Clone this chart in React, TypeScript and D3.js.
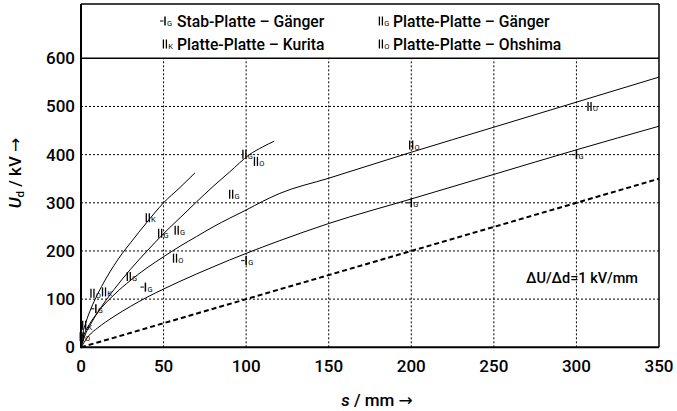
import React from 'react';
import * as d3 from 'd3';

const sTicks = [0, 50, 100, 150, 200, 250, 300, 350];
const uTicks = [0, 100, 200, 300, 400, 500, 600];

// fitted curves [s (mm), U (kV)]
const curveKurita: [number, number][] = [[0,0],[1,26],[3,52],[6,80],[10,110],[15,142],[20,170],[25,195],[30,217],[40,260],[50,300],[60,332],[69,362]];
const curvePPGaenger: [number, number][] = [[0,0],[3,30],[6,49],[10,72],[15,97],[20,120],[30,162],[40,200],[50,236],[60,269],[70,302],[80,334],[90,364],[102,400],[110,416],[117,428]];
const curveOhshima: [number, number][] = [[0,0],[2,27],[5,47],[10,72],[20,109],[30,139],[40,165],[50,188],[60,210],[70,230],[80,250],[90,268],[100,285],[110,303],[120,319],[150,351],[200,405],[250,457],[300,509],[350,561]];
const curveStab: [number, number][] = [[0,0],[5,25],[10,40],[20,64],[30,85],[40,104],[50,121],[60,137],[80,167],[100,195],[120,221],[150,257],[200,308],[250,359],[300,410],[350,459]];
const lineSlope: [number, number][] = [[0,0],[350,350]];

// measured points
const ptsStabG: [number, number][] = [[9,80],[39,125],[100,180],[200,300],[300,400]];
const ptsPPG: [number, number][] = [[29,147],[48,237],[58,243],[91,318],[99,401]];
const ptsPPK: [number, number][] = [[2,46],[14,115],[40.5,269]];
const ptsPPO: [number, number][] = [[0.5,22],[7,112],[57,185],[106,386],[200,420],[308,500]];

const legendItems = [
  { kind: 'stab', letter: 'G', label: 'Stab-Platte – Gänger', col: 0, row: 0 },
  { kind: 'pp', letter: 'G', label: 'Platte-Platte – Gänger', col: 1, row: 0 },
  { kind: 'pp', letter: 'K', label: 'Platte-Platte – Kurita', col: 0, row: 1 },
  { kind: 'pp', letter: 'O', label: 'Platte-Platte – Ohshima', col: 1, row: 1 },
];

const FONT = 'Roboto, "DejaVu Sans", sans-serif';

function Glyph({ x, y, kind, letter }: { x: number; y: number; kind: string; letter: string }) {
  const h = 9;
  return (
    <g transform={`translate(${x},${y})`}>
      {kind === 'stab' ? (
        <>
          <line x1={-5} x2={-1.5} y1={0} y2={0} stroke="#000" strokeWidth={1} />
          <line x1={0} x2={0} y1={-h / 2} y2={h / 2} stroke="#000" strokeWidth={1.5} />
          <text x={2} y={h / 2} fontSize={7.5} fontFamily={FONT}>{letter}</text>
        </>
      ) : (
        <>
          <line x1={-1.6} x2={-1.6} y1={-h / 2} y2={h / 2} stroke="#000" strokeWidth={1.3} />
          <line x1={1.4} x2={1.4} y1={-h / 2} y2={h / 2} stroke="#000" strokeWidth={1.3} />
          <text x={3.2} y={h / 2} fontSize={7.5} fontFamily={FONT}>{letter}</text>
        </>
      )}
    </g>
  );
}

export default function App() {
  const W = 677, H = 411;
  const left = 81, right = 659, top = 4, bottom = 347.3;
  const x = d3.scaleLinear().domain([0, 350]).range([left, right]);
  const y = d3.scaleLinear().domain([0, 600]).range([bottom, 58.3]);
  const line = d3.line<[number, number]>().x(d => x(d[0])).y(d => y(d[1])).curve(d3.curveMonotoneX);
  const straight = d3.line<[number, number]>().x(d => x(d[0])).y(d => y(d[1]));

  const series = [
    { pts: ptsStabG, kind: 'stab', letter: 'G' },
    { pts: ptsPPG, kind: 'pp', letter: 'G' },
    { pts: ptsPPK, kind: 'pp', letter: 'K' },
    { pts: ptsPPO, kind: 'pp', letter: 'O' },
  ];

  return (
    <svg width={W} height={H} style={{ position: 'absolute', left: 0, top: 0, background: '#fff' }}>
      <rect x={0} y={0} width={W} height={H} fill="#fff" />
      {/* grid */}
      {sTicks.filter(t => t > 0 && t < 350).map(t => (
        <line key={'gx' + t} x1={x(t)} x2={x(t)} y1={bottom} y2={y(600)} stroke="#000" strokeWidth={1} strokeDasharray="2,2" />
      ))}
      {uTicks.filter(t => t > 0 && t < 600).map(t => (
        <line key={'gy' + t} x1={left} x2={right} y1={y(t)} y2={y(t)} stroke="#000" strokeWidth={1} strokeDasharray="2,2" />
      ))}
      {/* frame */}
      <line x1={left} x2={right} y1={top} y2={top} stroke="#000" strokeWidth={1.5} />
      <line x1={right} x2={right} y1={top} y2={bottom} stroke="#000" strokeWidth={1.5} />
      <line x1={left} x2={right} y1={y(600)} y2={y(600)} stroke="#000" strokeWidth={1.5} />
      <line x1={left} x2={left} y1={top} y2={bottom + 1} stroke="#000" strokeWidth={2} />
      <line x1={left} x2={right} y1={bottom} y2={bottom} stroke="#000" strokeWidth={2} />

      {/* curves */}
      {[curveKurita, curvePPGaenger, curveOhshima, curveStab].map((c, i) => (
        <path key={'c' + i} d={line(c) || ''} fill="none" stroke="#000" strokeWidth={1} />
      ))}
      <path d={straight(lineSlope) || ''} fill="none" stroke="#000" strokeWidth={2} strokeDasharray="5,3" />

      {/* markers */}
      {series.map((s, i) => s.pts.map((p, j) => (
        <Glyph key={`m${i}-${j}`} x={x(p[0])} y={y(p[1])} kind={s.kind} letter={s.letter} />
      )))}

      {/* legend */}
      {legendItems.map((it, i) => {
        const gx = it.col === 0 ? 165 : 381;
        const tx = it.col === 0 ? 177 : 393;
        const cy = it.row === 0 ? 21 : 44;
        return (
          <g key={'lg' + i}>
            <Glyph x={gx} y={cy} kind={it.kind} letter={it.letter} />
            <text x={tx} y={cy + 5.5} fontSize={15.7} fontFamily={FONT} fontWeight={500}>{it.label}</text>
          </g>
        );
      })}

      {/* tick labels */}
      {uTicks.map(t => (
        <text key={'yl' + t} x={75} y={y(t) + 6} textAnchor="end" fontSize={17} fontFamily={FONT} fontWeight={500}>{t}</text>
      ))}
      {sTicks.map(t => (
        <text key={'xl' + t} x={x(t)} y={372} textAnchor="middle" fontSize={17} fontFamily={FONT} fontWeight={500}>{t}</text>
      ))}

      {/* annotation */}
      <text x={638} y={283} textAnchor="end" fontSize={14.5} fontFamily={FONT} fontWeight={500}>ΔU/Δd=1 kV/mm</text>

      {/* axis titles */}
      <text x={377} y={406} textAnchor="middle" fontSize={17} fontFamily={FONT} fontWeight={500}>
        <tspan fontStyle="italic">s</tspan> / mm →
      </text>
      <text transform={`translate(21,${173}) rotate(-90)`} textAnchor="middle" fontSize={17} fontFamily={FONT} fontWeight={500}>
        <tspan fontStyle="italic">U</tspan><tspan fontSize={11.5} dy={3}>d</tspan><tspan dy={-3}> / kV →</tspan>
      </text>
    </svg>
  );
}
